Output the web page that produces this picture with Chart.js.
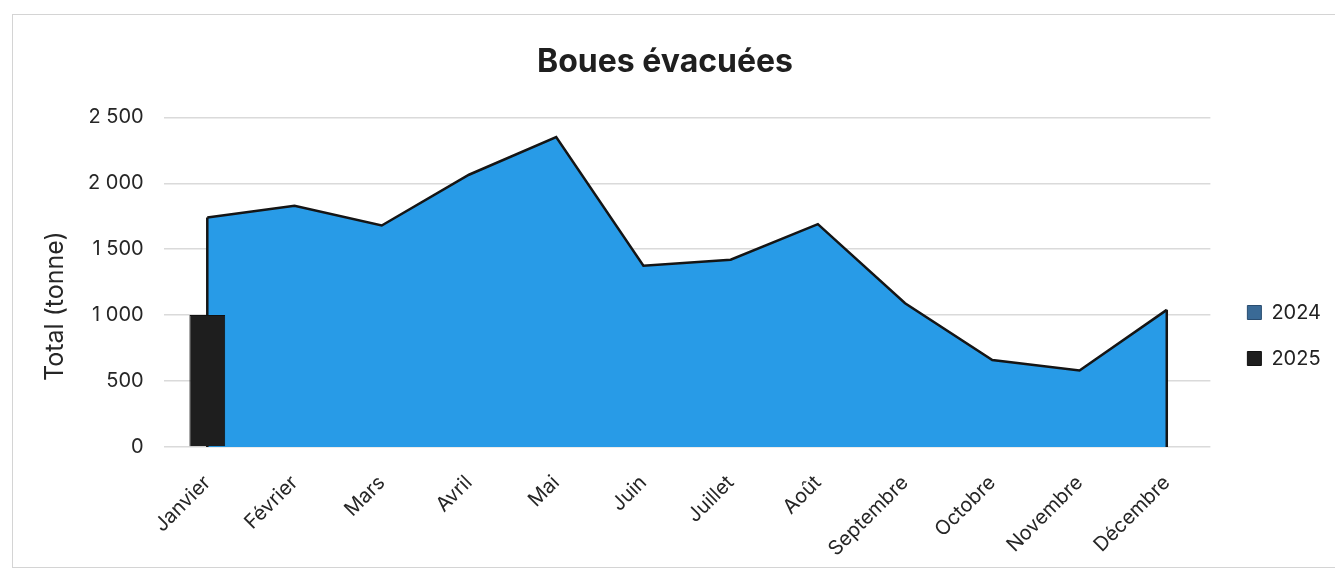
<!DOCTYPE html>
<html>
<head>
<meta charset="utf-8">
<script src="https://cdn.jsdelivr.net/npm/chart.js@4.4.1/dist/chart.umd.min.js"></script>
<style>
  body { margin: 0; background: #fff; }
  #frame { position: absolute; left: 12px; top: 14px; width: 1330px; height: 552px; border: 1px solid #d4d4d4; pointer-events: none; }
  canvas { position: absolute; left: 0; top: 0; }
</style>
</head>
<body>
<canvas id="bouesChart" width="1335" height="571"></canvas>
<div id="frame"></div>
<script>
// months on the category axis
var months = ['Janvier', 'Février', 'Mars', 'Avril', 'Mai', 'Juin', 'Juillet', 'Août', 'Septembre', 'Octobre', 'Novembre', 'Décembre'];
// tonnes per month
var values2024 = [1740, 1830, 1680, 2065, 2350, 1375, 1420, 1690, 1090, 660, 580, 1040];
var values2025 = [1000];
var yTicks = [0, 500, 1000, 1500, 2000, 2500];

var fontFam = "Inter, 'Liberation Sans', Arial, sans-serif";

function fmtNum(v) {
    return String(v).replace(/\B(?=(\d{3})+(?!\d))/g, ' ');
}

// black outline on the left and right sides of the area, like Excel draws it
var areaEdges = {
    id: 'areaEdges',
    afterDatasetDraw: function(chart, args) {
        if (args.index !== 0) return;
        var pts = args.meta.data;
        var y0 = chart.scales.y.getPixelForValue(0);
        var ctx = chart.ctx;
        ctx.save();
        ctx.strokeStyle = '#151515';
        ctx.lineWidth = 2.5;
        ctx.beginPath();
        ctx.moveTo(pts[0].x, pts[0].y);
        ctx.lineTo(pts[0].x, y0);
        ctx.moveTo(pts[pts.length - 1].x, pts[pts.length - 1].y);
        ctx.lineTo(pts[pts.length - 1].x, y0);
        ctx.stroke();
        ctx.restore();
    }
};

// nudge the title, legend and the y title a bit, the way the original sits
var layoutNudge = {
    id: 'layoutNudge',
    afterLayout: function(chart) {
        var lg = chart.legend;
        lg.left += 11; lg.right += 11;
        lg.top += 40; lg.bottom += 40;

        if (chart.titleBlock) {
            chart.titleBlock.left -= 13;
            chart.titleBlock.right -= 13;
        }

        var ys = chart.scales.y;
        if (!ys._nudged) {
            var orig = ys.drawTitle;
            ys.drawTitle = function() {
                chart.ctx.save();
                chart.ctx.translate(4, 24);
                orig.apply(this, arguments);
                chart.ctx.restore();
            };
            ys._nudged = true;
        }
    }
};

document.addEventListener('DOMContentLoaded', function() {
    var ctx = document.getElementById('bouesChart').getContext('2d');
    var bouesChart = new Chart(ctx, {
        data: {
            labels: months,
            datasets: [{
                type: 'line',
                label: '2024',
                data: values2024,
                borderColor: '#151515',
                borderWidth: 2.5,
                backgroundColor: '#289be7',
                fill: 'origin',
                pointRadius: 0,
                tension: 0,
                order: 1
            }, {
                type: 'bar',
                label: '2025',
                data: values2025,
                backgroundColor: '#1e1e1e',
                borderColor: '#111',
                borderWidth: 1,
                categoryPercentage: 1,
                barPercentage: 0.41,
                order: 0
            }]
        },
        options: {
            responsive: false,
            animation: false,
            layout: { padding: { left: 36, right: 15, top: 20, bottom: 0 } },
            plugins: {
                title: {
                    display: true,
                    text: 'Boues évacuées',
                    color: '#1f1f1f',
                    font: { family: fontFam, size: 32, weight: 'bold' },
                    padding: { top: 23, bottom: 36 }
                },
                legend: {
                    position: 'right',
                    labels: {
                        color: '#222',
                        font: { family: fontFam, size: 20 },
                        boxWidth: 14,
                        boxHeight: 14,
                        padding: 26,
                        sort: function(a, b) { return a.datasetIndex - b.datasetIndex; },
                        generateLabels: function(chart) {
                            var items = Chart.defaults.plugins.legend.labels.generateLabels(chart);
                            items.forEach(function(it) {
                                if (it.datasetIndex === 0) {
                                    it.fillStyle = '#3a6a96';
                                    it.strokeStyle = '#2a4d70';
                                } else {
                                    it.fillStyle = '#1e1e1e';
                                    it.strokeStyle = '#111';
                                }
                                it.lineWidth = 1;
                            });
                            return items;
                        }
                    }
                },
                tooltip: { enabled: false }
            },
            scales: {
                x: {
                    grid: { display: false },
                    border: { display: false },
                    afterFit: function(axis) { axis.height -= 6; },
                    ticks: {
                        color: '#262626',
                        font: { family: fontFam, size: 20 },
                        maxRotation: 45,
                        minRotation: 45,
                        padding: 16
                    }
                },
                y: {
                    min: 0,
                    max: 2500,
                    afterBuildTicks: function(axis) {
                        axis.ticks = yTicks.map(function(v) { return { value: v }; });
                    },
                    grid: { color: '#dadada', lineWidth: 1.5, drawTicks: false },
                    border: { display: false },
                    ticks: {
                        color: '#262626',
                        font: { family: fontFam, size: 20 },
                        padding: 20,
                        callback: function(v) { return fmtNum(v); }
                    },
                    title: {
                        display: true,
                        text: 'Total (tonne)',
                        color: '#262626',
                        font: { family: fontFam, size: 25 },
                        padding: { top: 0, bottom: 2 }
                    }
                }
            }
        },
        plugins: [areaEdges, layoutNudge]
    });
});
</script>
</body>
</html>
